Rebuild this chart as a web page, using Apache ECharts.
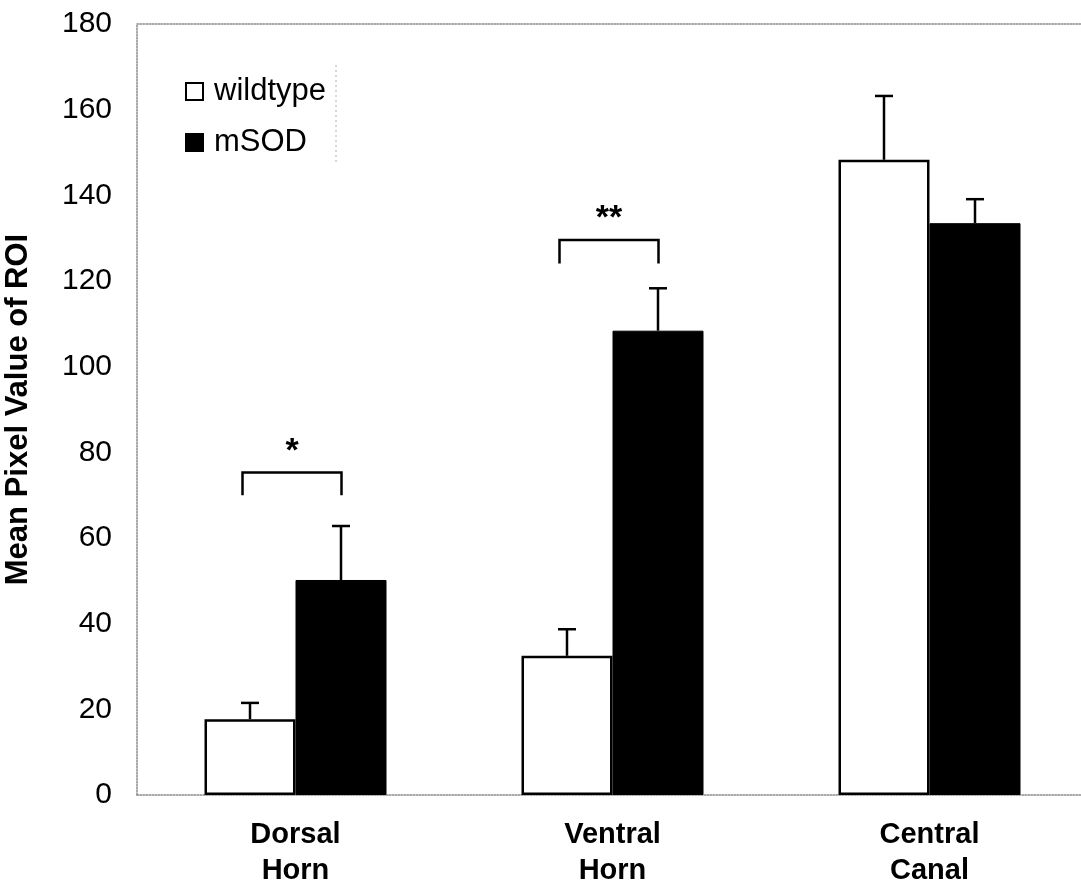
<!DOCTYPE html>
<html>
<head>
<meta charset="utf-8">
<script src="https://cdn.jsdelivr.net/npm/echarts@6/dist/echarts.min.js"></script>
<style>
html,body{margin:0;padding:0;background:#fff;}
#c{width:1081px;height:882px;}
</style>
</head>
<body>
<div id="c"></div>
<script>
var categories = ['Dorsal\nHorn', 'Ventral\nHorn', 'Central\nCanal'];
var seriesNames = ['wildtype', 'mSOD'];
var wildtypeMean = [17.7, 32.5, 148.3];
var wildtypeUpper = [21.5, 38.7, 163.2];
var msodMean = [50.2, 108.4, 133.5];
var msodUpper = [62.8, 118.3, 139.1];
var bracketCategory = [0, 1];
var bracketTop = [75.3, 129.6];
var bracketLeg = [70.0, 124.1];
var bracketLabel = ['*', '**'];
var yTicks = {min: 0, max: 180, interval: 20};

var FONT = '"Liberation Sans", Arial, sans-serif';
var chart = echarts.init(document.getElementById('c'), null, {renderer: 'canvas'});

function errData(means, uppers) {
  return means.map(function (m, i) { return [i, m, uppers[i]]; });
}
function makeErr(offset) {
  return function (params, api) {
    var base = api.coord([api.value(0), api.value(1)]);
    var top = api.coord([api.value(0), api.value(2)]);
    var x = base[0] + offset;
    var cap = 9;
    return {
      type: 'group',
      children: [
        {type: 'line', shape: {x1: x, y1: base[1], x2: x, y2: top[1]}, style: {stroke: '#000', lineWidth: 2.5}},
        {type: 'line', shape: {x1: x - cap, y1: top[1], x2: x + cap, y2: top[1]}, style: {stroke: '#000', lineWidth: 2.5}}
      ]
    };
  };
}
var bracketData = bracketCategory.map(function (c, i) { return [c, bracketTop[i], bracketLeg[i], bracketLabel[i]]; });

var option = {
  animation: false,
  backgroundColor: '#fff',
  grid: {left: 137, top: 24, bottom: 87, right: -7, containLabel: false, outerBoundsMode: 'none'},
  legend: {
    data: seriesNames,
    orient: 'vertical',
    left: 180,
    top: 70,
    itemWidth: 17,
    itemHeight: 17,
    itemGap: 18,
    icon: 'rect',
    textStyle: {fontFamily: FONT, fontSize: 31, color: '#000', padding: [0, 0, 0, 6], lineHeight: 33}
  },
  xAxis: [{
    type: 'category',
    data: categories,
    axisLine: {show: true, lineStyle: {color: '#8a8a8a', width: 1.5, type: 'dotted'}},
    axisTick: {show: false},
    axisLabel: {fontFamily: FONT, fontSize: 29, fontWeight: 'bold', color: '#000', lineHeight: 36, margin: 22},
    splitLine: {show: false}
  }, {
    type: 'category',
    data: categories,
    position: 'top',
    axisLine: {show: true, lineStyle: {color: '#8a8a8a', width: 1.5, type: 'dotted'}},
    axisTick: {show: false},
    axisLabel: {show: false}
  }],
  yAxis: {
    type: 'value',
    min: yTicks.min, max: yTicks.max, interval: yTicks.interval,
    name: 'Mean Pixel Value of ROI',
    nameLocation: 'middle',
    nameGap: 103,
    nameTextStyle: {fontFamily: FONT, fontSize: 31, fontWeight: 'bold', color: '#000'},
    axisLine: {show: true, lineStyle: {color: '#8a8a8a', width: 1.5, type: 'dotted'}},
    axisTick: {show: false},
    axisLabel: {fontFamily: FONT, fontSize: 30, color: '#000', margin: 25},
    splitLine: {show: false}
  },
  graphic: [{
    type: 'line',
    shape: {x1: 336, y1: 65, x2: 336, y2: 162},
    style: {stroke: '#b0b0b0', lineWidth: 1, lineDash: [2, 3]}
  }],
  series: [{
    name: 'wildtype',
    type: 'bar',
    data: wildtypeMean,
    barWidth: 91,
    barGap: '0%',
    itemStyle: {color: '#fff', borderColor: '#000', borderWidth: 2.5},
    z: 2
  }, {
    name: 'mSOD',
    type: 'bar',
    data: msodMean,
    barWidth: 91,
    barGap: '0%',
    itemStyle: {color: '#000', borderColor: '#000', borderWidth: 1},
    z: 2
  }, {
    type: 'custom',
    name: 'errWT',
    data: errData(wildtypeMean, wildtypeUpper),
    renderItem: makeErr(-45.5),
    z: 3
  }, {
    type: 'custom',
    name: 'errMSOD',
    data: errData(msodMean, msodUpper),
    renderItem: makeErr(45.5),
    z: 3
  }, {
    type: 'custom',
    name: 'brackets',
    data: bracketData,
    renderItem: function (params, api) {
      var c = api.value(0);
      var t = api.coord([c, api.value(1)]);
      var l = api.coord([c, api.value(2)]);
      var x1 = t[0] - 53, x2 = t[0] + 46;
      var lab = bracketData[params.dataIndex][3];
      return {
        type: 'group',
        children: [
          {type: 'polyline', shape: {points: [[x1, l[1]], [x1, t[1]], [x2, t[1]], [x2, l[1]]]}, style: {stroke: '#000', lineWidth: 2.5, fill: null}},
          {type: 'text', style: {text: lab, x: (x1 + x2) / 2, y: t[1] - 4, align: 'center', verticalAlign: 'bottom', font: 'bold 34px ' + FONT, fill: '#000'}}
        ]
      };
    },
    z: 3
  }]
};
chart.setOption(option);
</script>
</body>
</html>
